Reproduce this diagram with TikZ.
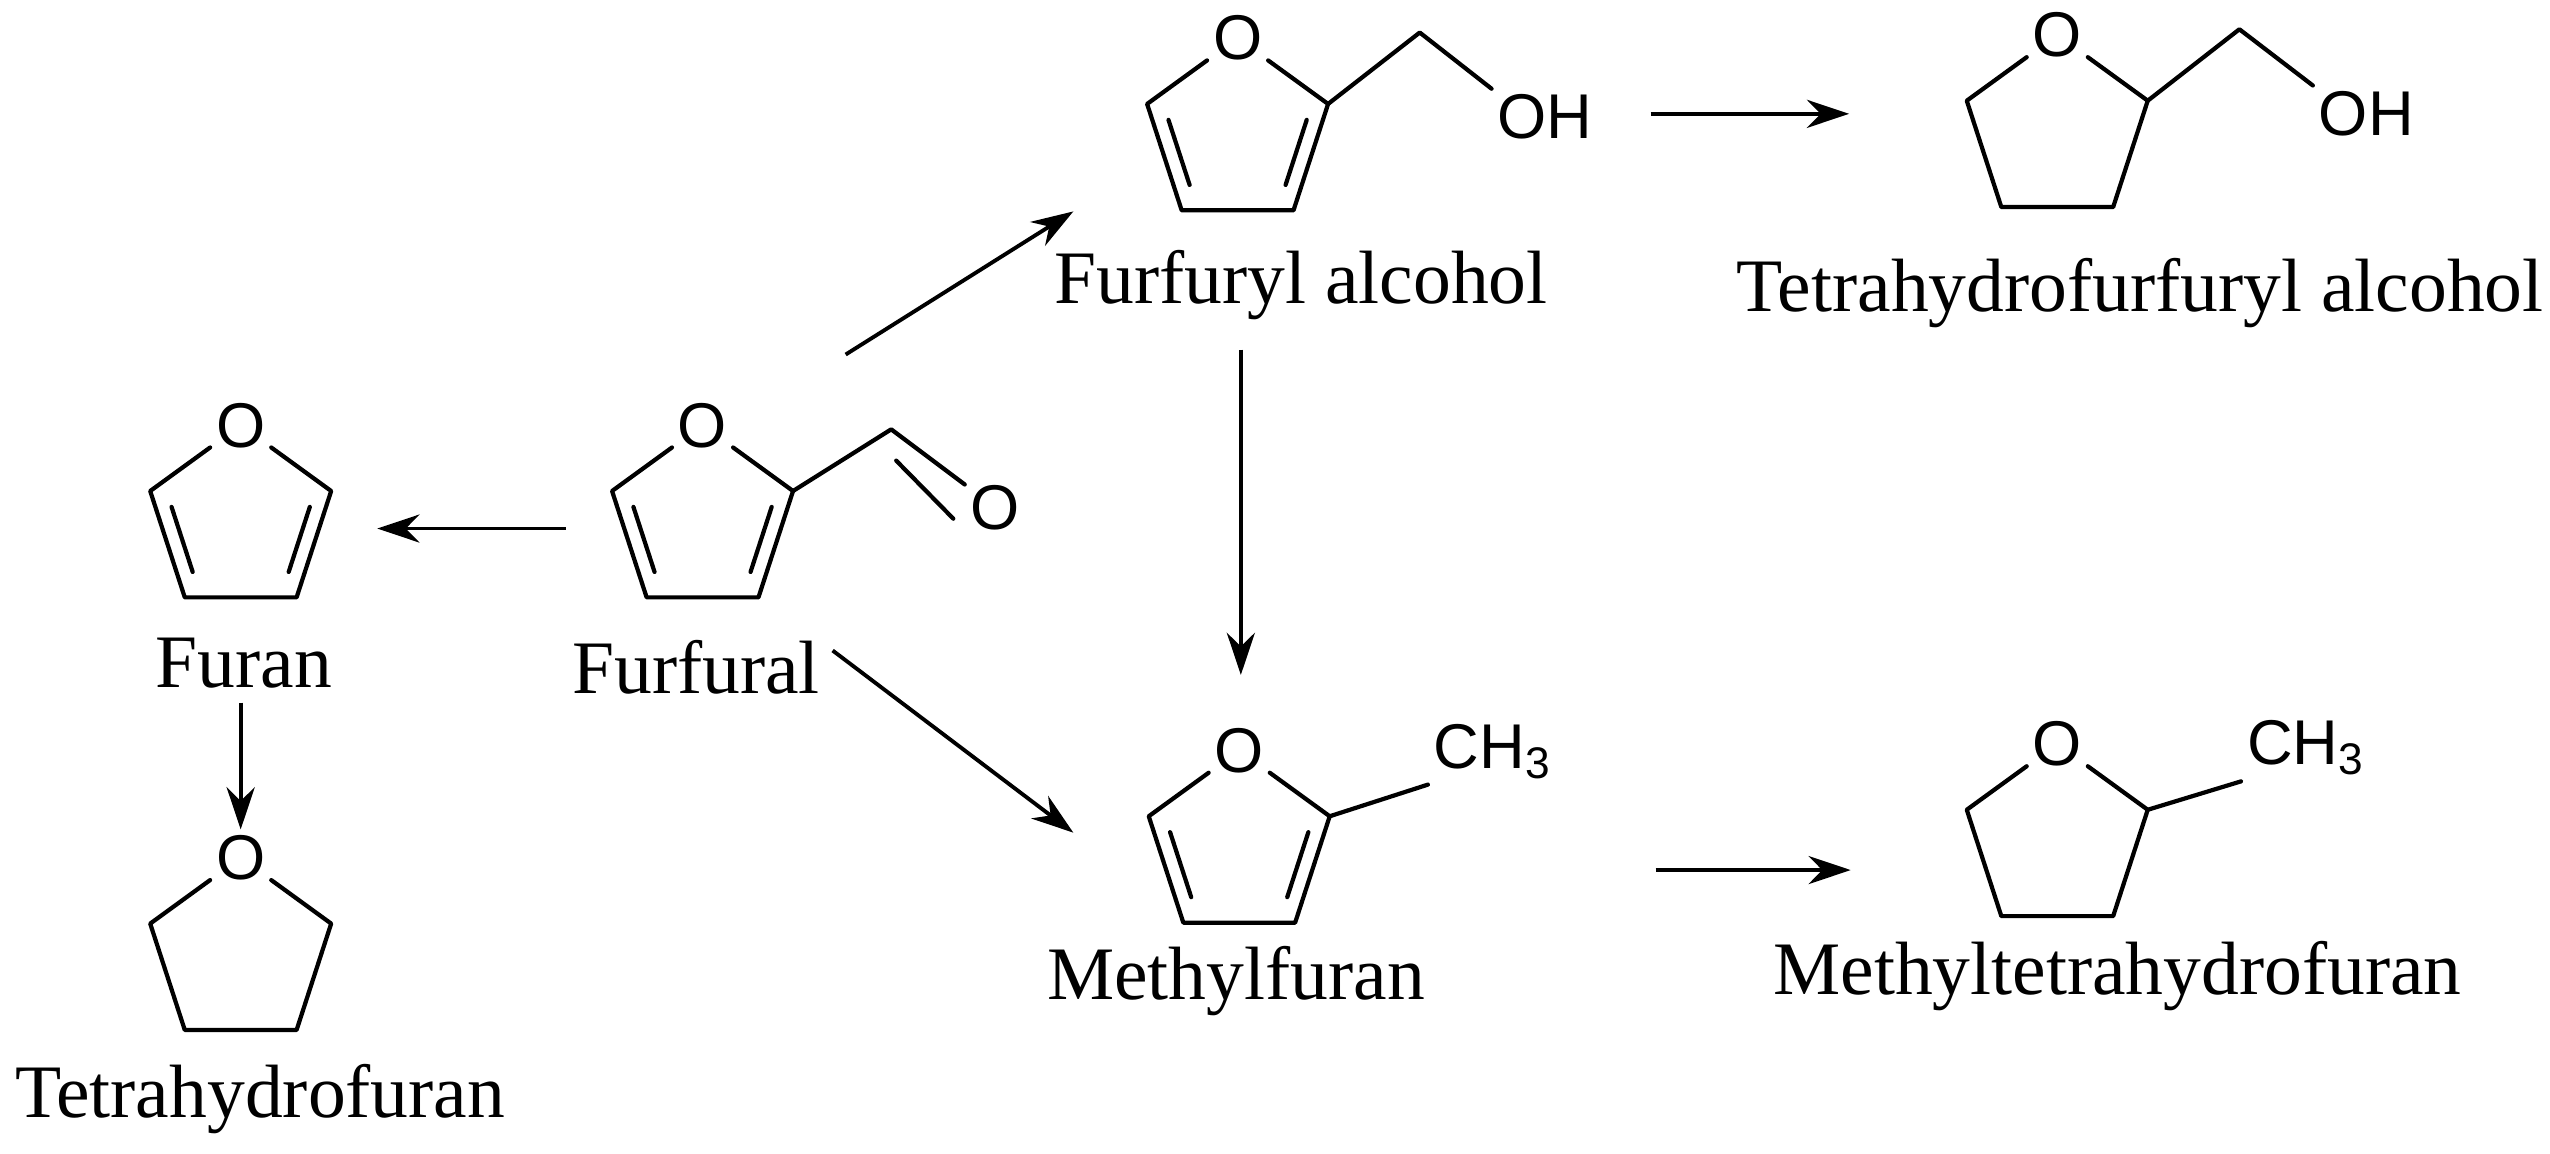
\documentclass[tikz,border=0pt]{standalone}
\usepackage{fontspec}
\setmainfont{Liberation Serif}
\newfontfamily\atomfont{Liberation Sans}
\usetikzlibrary{calc,arrows.meta}
\tikzset{
 bond/.style={line width=1.2pt,line cap=round,line join=round},
 atom/.style={font=\atomfont\fontsize{18}{18}\selectfont,inner sep=1.5pt},
 lbl/.style={font=\fontsize{21.5}{21.5}\selectfont,inner sep=0pt},
 rx/.style={line width=1.1pt,-{Stealth[length=12pt,width=8pt]}},
 pics/thfring/.style={code={
   \coordinate (-c) at (0,0);
   \node[atom] (-O) at (-90:58.5) {O};
   \coordinate (-a) at (-18:58.5); \coordinate (-b) at (54:58.5);
   \coordinate (-d) at (126:58.5); \coordinate (-e) at (198:58.5);
   \draw[bond] (-O) -- (-a) -- (-b) -- (-d) -- (-e) -- (-O);
 }},
 pics/furring/.style={code={
   \coordinate (-c) at (0,0);
   \node[atom] (-O) at (-90:58.5) {O};
   \coordinate (-a) at (-18:58.5); \coordinate (-b) at (54:58.5);
   \coordinate (-d) at (126:58.5); \coordinate (-e) at (198:58.5);
   \draw[bond] (-O) -- (-a) -- (-b) -- (-d) -- (-e) -- (-O);
   \draw[bond,shorten <=3pt,shorten >=3pt] ($(-a)!0.2!(-c)$) -- ($(-b)!0.2!(-c)$);
   \draw[bond,shorten <=3pt,shorten >=3pt] ($(-d)!0.2!(-c)$) -- ($(-e)!0.2!(-c)$);
 }}
}
\begin{document}
\begin{tikzpicture}[x=0.01626cm,y=-0.01626cm]
\useasboundingbox (0,0) rectangle (1568,709);
% Furfural
\pic (ff) at (432,320) {furring};
\coordinate (ffc) at (548,264);
\node[atom] (ffo) at (612,312) {O};
\draw[bond] (ff-a) -- (ffc) -- (ffo);
\draw[bond,shorten <=6pt,shorten >=2pt] ($(ffc)+(-6,10)$) -- ($(ffo.west)+(-4,10)$);
\node[lbl] (lff) at (428,410) {Furfural};
% Furan
\pic (fu) at (148,320) {furring};
\node[lbl] (lfu) at (150,408) {Furan};
% THF
\pic (th) at (148,586) {thfring};
\node[lbl] (lth) at (160,676) {Tetrahydrofuran};
% Furfuryl alcohol
\pic (fa) at (761,82) {furring};
\coordinate (fach) at (873,20);
\node[atom] (faoh) at (950,72) {OH};
\draw[bond] (fa-a) -- (fach) -- (faoh.north west);
\node[lbl] (lfa) at (800,175) {Furfuryl alcohol};
% THFA
\pic (ta) at (1265,80) {thfring};
\coordinate (tach) at (1377,18);
\node[atom] (taoh) at (1455,70) {OH};
\draw[bond] (ta-a) -- (tach) -- (taoh.north west);
\node[lbl] (lta) at (1316,180) {Tetrahydrofurfuryl alcohol};
% Methylfuran
\pic (mf) at (762,520) {furring};
\node[atom,anchor=west] (mfme) at (878,462) {CH\textsubscript{3}};
\draw[bond] (mf-a) -- (mfme.south west);
\node[lbl] (lmf) at (760,603) {Methylfuran};
% MTHF
\pic (mt) at (1265,516) {thfring};
\node[atom,anchor=west] (mtme) at (1378,460) {CH\textsubscript{3}};
\draw[bond] (mt-a) -- (mtme.south west);
\node[lbl] (lmt) at (1302,600) {Methyltetrahydrofuran};
% arrows
\coordinate (a1s) at (520,218); \coordinate (a1e) at (660,130);
\coordinate (a2s) at (348,325); \coordinate (a2e) at (232,325);
\coordinate (a3s) at (512,400); \coordinate (a3e) at (660,512);
\coordinate (a4s) at (763,215); \coordinate (a4e) at (763,415);
\coordinate (a5s) at (148,432); \coordinate (a5e) at (148,510);
\coordinate (a6s) at (1015,70); \coordinate (a6e) at (1137,70);
\coordinate (a7s) at (1018,535); \coordinate (a7e) at (1138,535);
\draw[rx] (a1s) -- (a1e);
\draw[rx] (a2s) -- (a2e);
\draw[rx] (a3s) -- (a3e);
\draw[rx] (a4s) -- (a4e);
\draw[rx] (a5s) -- (a5e);
\draw[rx] (a6s) -- (a6e);
\draw[rx] (a7s) -- (a7e);
\end{tikzpicture}
\end{document}
